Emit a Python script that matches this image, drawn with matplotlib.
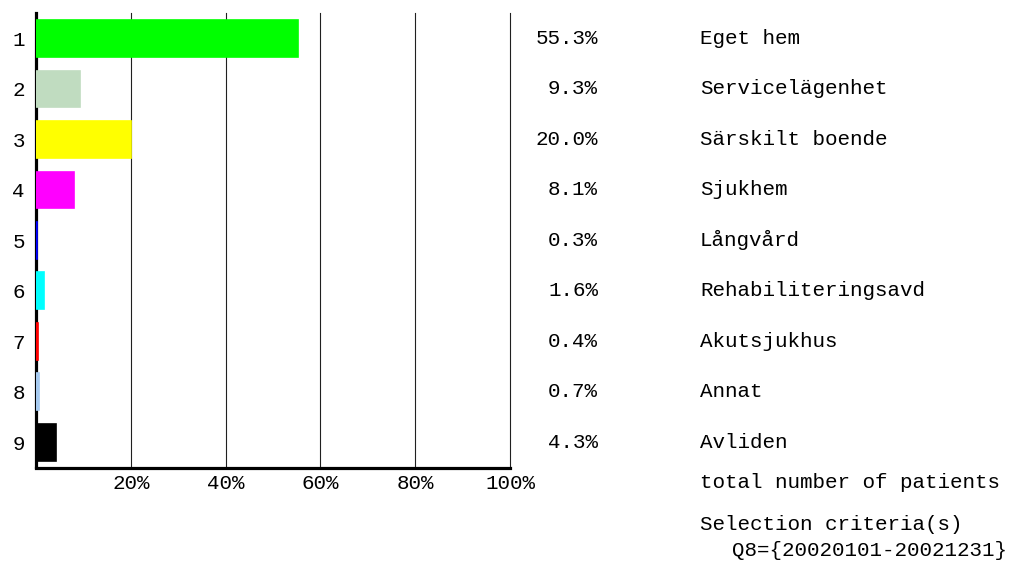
import matplotlib.pyplot as plt
from matplotlib.transforms import blended_transform_factory

# data
rows = [1, 2, 3, 4, 5, 6, 7, 8, 9]
values = [55.3, 9.3, 20.0, 8.1, 0.3, 1.6, 0.4, 0.7, 4.3]
labels = ['Eget hem', 'Servicelägenhet', 'Särskilt boende', 'Sjukhem',
          'Långvård', 'Rehabiliteringsavd', 'Akutsjukhus', 'Annat', 'Avliden']
colors = ['#00ff00', '#c0dcc0', '#ffff00', '#ff00ff', '#0000ff',
          '#00ffff', '#ff0000', '#a6caf0', '#000000']
xticks = [20, 40, 60, 80, 100]

plt.rcParams['font.family'] = ['Liberation Mono', 'DejaVu Sans Mono']
fs = 15

W, H = 1016, 563
fig = plt.figure(figsize=(W / 100, H / 100), dpi=100)
ax = fig.add_axes([36 / W, (H - 467.5) / H, (510 - 36) / W, (467.5 - 13.3) / H])

ax.barh(rows, values, height=0.73, color=colors, edgecolor=colors,
        linewidth=1.2, zorder=3)
for t in xticks:
    ax.axvline(t, color='#202020', lw=0.8, zorder=1, clip_on=False)

ax.set_xlim(0, 100)
ax.set_ylim(9.5, 0.5)
ax.set_yticks(rows)
ax.set_yticklabels([str(r) for r in rows], fontsize=fs)
ax.set_xticks(xticks)
ax.set_xticklabels([f'{t}%' for t in xticks], fontsize=fs)
ax.tick_params(axis='both', length=0)
ax.tick_params(axis='y', pad=8)
ax.tick_params(axis='x', pad=5)

for side in ['top', 'right']:
    ax.spines[side].set_visible(False)
ax.spines['left'].set_linewidth(2.3)
ax.spines['bottom'].set_linewidth(2.3)
ax.spines['left'].set_zorder(2)

# value and label columns on the right
tr = blended_transform_factory(fig.transFigure, ax.transData)
for r, v, lab in zip(rows, values, labels):
    ax.text(598 / W, r, f'{v:.1f}%', transform=tr, ha='right', va='center',
            fontsize=fs, clip_on=False)
    ax.text(700 / W, r, lab, transform=tr, ha='left', va='center',
            fontsize=fs, clip_on=False)

fig.text(700 / W, 1 - 482 / H, 'total number of patients', ha='left', va='center', fontsize=fs)
fig.text(700 / W, 1 - 525 / H, 'Selection criteria(s)', ha='left', va='center', fontsize=fs)
fig.text(732 / W, 1 - 551 / H, 'Q8={20020101-20021231}', ha='left', va='center', fontsize=fs)

fig.savefig('out.png', dpi=100)
